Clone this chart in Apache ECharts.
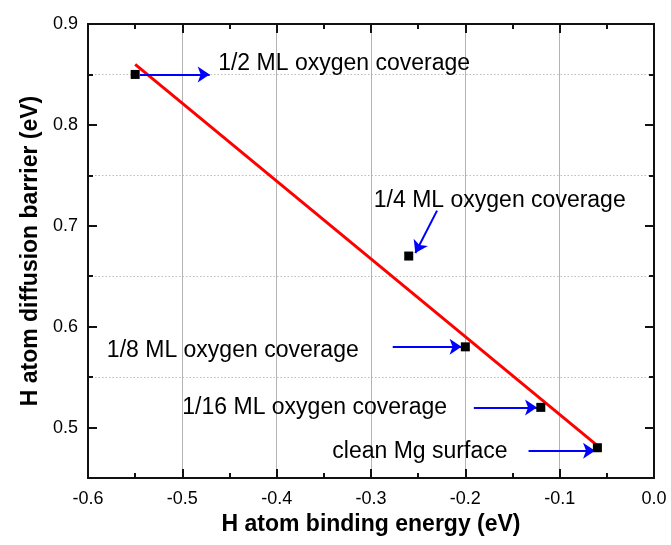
<!DOCTYPE html>
<html>
<head>
<meta charset="utf-8">
<script src="https://cdn.jsdelivr.net/npm/echarts@6/dist/echarts.min.js"></script>
<style>html,body{margin:0;padding:0;background:#fff;}#c{width:671px;height:545px;}</style>
</head>
<body>
<div id="c"></div>
<script>
// ---- data ----
const bindingEnergy = [-0.55, -0.26, -0.2, -0.12, -0.06];
const diffusionBarrier = [0.85, 0.67, 0.58, 0.52, 0.48];
const fitX = [-0.55, -0.06];
const fitY = [0.86, 0.482];
const annotationText = ['1/2 ML oxygen coverage', '1/4 ML oxygen coverage', '1/8 ML oxygen coverage', '1/16 ML oxygen coverage', 'clean Mg surface'];
const annotationX = [-0.462, -0.297, -0.580, -0.500, -0.341];
const annotationY = [0.861, 0.725, 0.576, 0.520, 0.476];
const arrowFromX = [-0.545, -0.230, -0.277, -0.191, -0.133];
const arrowFromY = [0.85, 0.715, 0.58, 0.52, 0.477];
const arrowToX = [-0.471, -0.253, -0.204, -0.124, -0.0625];
const arrowToY = [0.85, 0.673, 0.58, 0.52, 0.477];
const xTicks = [-0.6, -0.5, -0.4, -0.3, -0.2, -0.1, 0.0];
const yMajorTicks = [0.5, 0.6, 0.7, 0.8, 0.9];
const yMinorTicks = [0.55, 0.65, 0.75, 0.85];
const xTitle = 'H atom binding energy (eV)';
const yTitle = 'H atom diffusion barrier (eV)';

const FONT = 'Arial, "Liberation Sans", sans-serif';
const AXIS_COLOR = '#111111';
const TICK_COLOR = '#111111';
const TEXT_COLOR = '#000000';

const chart = echarts.init(document.getElementById('c'), null, {renderer: 'canvas'});

function tickStyle(len) {
  return {show: true, inside: true, length: len, lineStyle: {color: TICK_COLOR, width: 2}};
}
function axisLineDef() {
  return {show: true, onZero: false, lineStyle: {color: AXIS_COLOR, width: 2}};
}

function xAxisDef(position, showLabel) {
  return {
    type: 'value', min: xTicks[0], max: xTicks[xTicks.length - 1], interval: 0.1, position: position,
    axisLine: axisLineDef(),
    axisTick: tickStyle(9),
    minorTick: {show: true, splitNumber: 2, length: 5, lineStyle: {color: TICK_COLOR, width: 2}},
    splitLine: showLabel ? {show: true, lineStyle: {color: '#b4b4b4', width: 1}} : {show: false},
    axisLabel: showLabel ? {show: true, fontSize: 18, color: TEXT_COLOR, fontFamily: FONT, margin: 12,
      formatter: v => Math.abs(v) < 1e-9 ? '0.0' : Number(v).toFixed(1)} : {show: false},
    name: showLabel ? xTitle : '', nameLocation: 'middle', nameGap: 35,
    nameTextStyle: {fontSize: 23, fontWeight: 'bold', color: TEXT_COLOR, fontFamily: FONT}
  };
}

function yAxisDef(position, ticks, len, showLabel, split) {
  const tick = tickStyle(len);
  tick.customValues = ticks;
  return {
    type: 'value', min: 0.45, max: 0.9, position: position,
    axisLine: axisLineDef(),
    axisTick: tick,
    axisLabel: showLabel ? {show: true, customValues: ticks, fontSize: 18, color: TEXT_COLOR, fontFamily: FONT, margin: 10,
      formatter: v => Number(v).toFixed(1)} : {show: false},
    splitLine: split ? {show: true, lineStyle: {color: '#bdbdbd', type: [1.5, 2], width: 1}} : {show: false},
    name: showLabel ? yTitle : '',
    nameLocation: 'middle', nameGap: 42,
    nameTextStyle: {fontSize: 23, fontWeight: 'bold', color: TEXT_COLOR, fontFamily: FONT}
  };
}

const option = {
  animation: false,
  backgroundColor: '#ffffff',
  grid: {left: 88, right: 17, top: 24, bottom: 67, containLabel: false},
  xAxis: [xAxisDef('bottom', true), xAxisDef('top', false)],
  yAxis: [
    yAxisDef('left', yMajorTicks, 9, true, false),
    yAxisDef('left', yMinorTicks, 5, false, true),
    yAxisDef('right', yMajorTicks, 9, false, false),
    yAxisDef('right', yMinorTicks, 5, false, false)
  ],
  series: [
    {
      type: 'line', xAxisIndex: 0, yAxisIndex: 0,
      data: fitX.map((x, i) => [x, fitY[i]]),
      showSymbol: false, symbol: 'none',
      lineStyle: {color: '#ff0000', width: 3}, z: 3
    },
    {
      type: 'lines', coordinateSystem: 'cartesian2d', xAxisIndex: 0, yAxisIndex: 0,
      data: arrowFromX.map((x, i) => ({coords: [[x, arrowFromY[i]], [arrowToX[i], arrowToY[i]]]})),
      symbol: ['none', 'arrow'], symbolSize: [8, 12],
      lineStyle: {color: '#0000ff', width: 2, opacity: 1}, z: 4
    },
    {
      type: 'scatter', xAxisIndex: 0, yAxisIndex: 0,
      data: bindingEnergy.map((x, i) => [x, diffusionBarrier[i]]),
      symbol: 'rect', symbolSize: 9,
      itemStyle: {color: '#000000', opacity: 1}, z: 5
    },
    {
      type: 'scatter', xAxisIndex: 0, yAxisIndex: 0,
      data: annotationX.map((x, i) => ({name: annotationText[i], value: [x, annotationY[i]]})),
      symbolSize: 0, silent: true,
      itemStyle: {opacity: 1},
      label: {show: true, position: [0, 0], align: 'left', verticalAlign: 'middle',
        formatter: p => p.name, fontSize: 23, color: TEXT_COLOR, fontFamily: FONT},
      z: 6
    }
  ]
};
chart.setOption(option);
</script>
</body>
</html>
